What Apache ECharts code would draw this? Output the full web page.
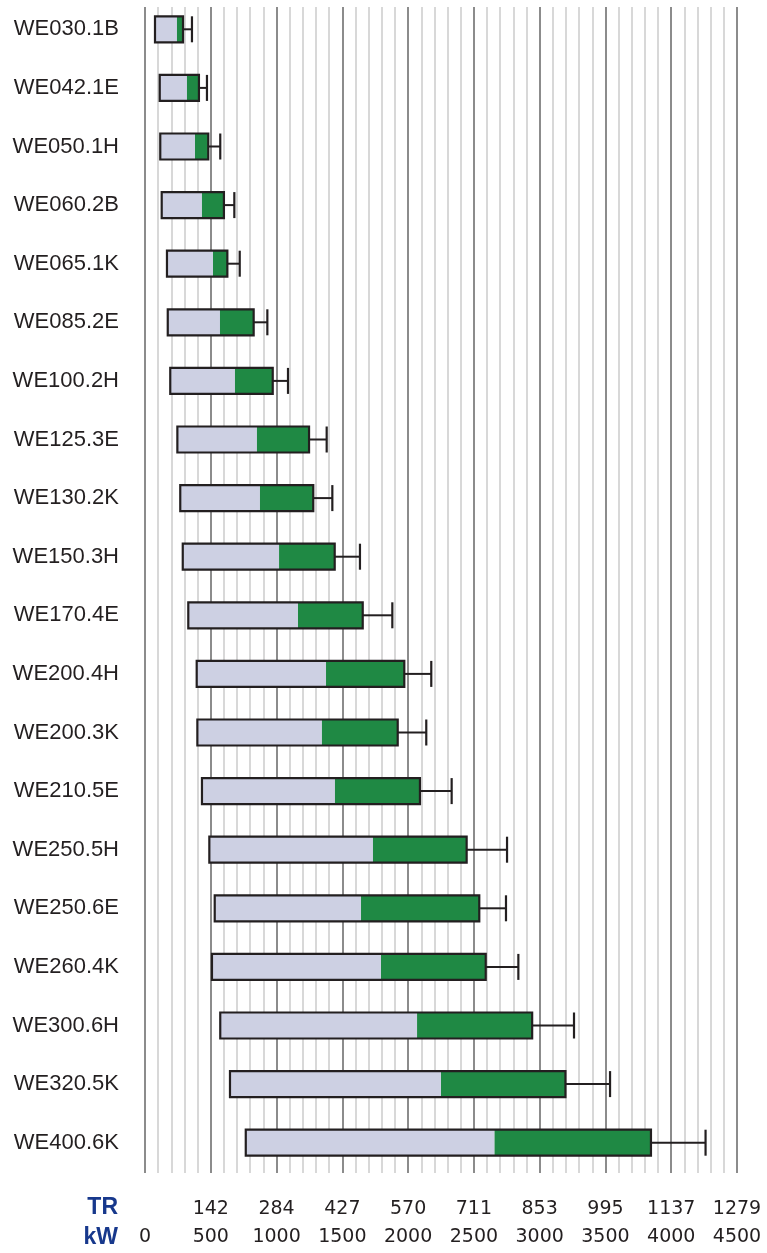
<!DOCTYPE html>
<html>
<head>
<meta charset="utf-8">
<script src="https://cdn.jsdelivr.net/npm/echarts@6/dist/echarts.min.js"></script>
<style>
html,body{margin:0;padding:0;background:#fff;}
#chart{width:767px;height:1253px;}
</style>
</head>
<body>
<div id="chart"></div>
<script>
// Model names (top to bottom)
const models = ['WE030.1B','WE042.1E','WE050.1H','WE060.2B','WE065.1K','WE085.2E','WE100.2H','WE125.3E','WE130.2K','WE150.3H','WE170.4E','WE200.4H','WE200.3K','WE210.5E','WE250.5H','WE250.6E','WE260.4K','WE300.6H','WE320.5K','WE400.6K'];
// Capacity ranges in kW
const startKW   = [76, 112, 116, 127, 167, 173, 192, 246, 268, 287, 329, 393, 398, 433, 489, 530, 509, 572, 646, 766];
const midKW     = [243, 319, 380, 433, 517, 570, 684, 851, 874, 1019, 1163, 1376, 1345, 1444, 1733, 1642, 1794, 2068, 2250, 2657];
const endKW     = [289, 410, 481, 600, 626, 826, 971, 1247, 1279, 1442, 1655, 1971, 1921, 2090, 2445, 2541, 2590, 2943, 3196, 3846];
const whiskerKW = [357, 471, 572, 679, 720, 930, 1087, 1381, 1424, 1634, 1880, 2176, 2138, 2331, 2752, 2744, 2838, 3261, 3535, 4261];
// Tick labels
const trLabels = ['', '142', '284', '427', '570', '711', '853', '995', '1137', '1279'];
const kwTicks  = [0, 500, 1000, 1500, 2000, 2500, 3000, 3500, 4000, 4500];

const chart = echarts.init(document.getElementById('chart'), null, {renderer: 'canvas'});

const LIGHT = '#cdd0e3', GREEN = '#1f8944', EDGE = '#231f20';
const data = models.map((m, i) => [i, startKW[i], midKW[i], endKW[i], whiskerKW[i]]);

const tickFont = {fontFamily: 'DejaVu Sans', fontSize: 19, color: '#231f20'};

chart.setOption({
  animation: false,
  grid: [
    {left: 145, right: 30, top: 0, height: 1172},
    {left: 145, right: 30, top: 7, height: 1166}
  ],
  xAxis: [
    {gridIndex: 0, type: 'value', min: 0, max: 4500, interval: 500, show: false},
    {gridIndex: 1, type: 'value', min: 0, max: 4500, interval: 500, position: 'bottom',
      axisLine: {show: false}, axisTick: {show: false},
      splitLine: {show: true, lineStyle: {color: '#8c8c8c', width: 2}},
      minorTick: {show: false, splitNumber: 5},
      minorSplitLine: {show: true, lineStyle: {color: '#cccccc', width: 1.5}},
      axisLabel: Object.assign({margin: 55, formatter: v => String(v), showMinLabel: true, showMaxLabel: true}, tickFont)
    },
    {gridIndex: 1, type: 'value', min: 0, max: 4500, interval: 500, position: 'bottom', offset: 0,
      axisLine: {show: false}, axisTick: {show: false}, splitLine: {show: false},
      axisLabel: Object.assign({margin: 27, formatter: v => trLabels[kwTicks.indexOf(v)] || '', showMinLabel: true, showMaxLabel: true}, tickFont)
    }
  ],
  yAxis: [
    {gridIndex: 0, type: 'category', data: models, inverse: true,
      axisLine: {show: false}, axisTick: {show: false}, splitLine: {show: false},
      axisLabel: {margin: 26, fontFamily: 'Liberation Sans', fontSize: 22, color: '#231f20'}
    },
    {gridIndex: 1, type: 'value', show: false}
  ],
  graphic: [
    {type: 'text', right: 767 - 118, top: 1196, style: {text: 'TR', font: 'bold 23px "Liberation Sans"', fill: '#17388c', textAlign: 'right'}},
    {type: 'text', right: 767 - 118, top: 1226, style: {text: 'kW', font: 'bold 23px "Liberation Sans"', fill: '#17388c', textAlign: 'right'}}
  ],
  series: [{
    type: 'custom',
    xAxisIndex: 0, yAxisIndex: 0,
    encode: {y: 0, x: [1, 2, 3, 4]},
    data: data,
    z: 5,
    renderItem: function (params, api) {
      const c = api.value(0);
      const p0 = api.coord([api.value(1), c]);
      const p1 = api.coord([api.value(2), c]);
      const p2 = api.coord([api.value(3), c]);
      const p3 = api.coord([api.value(4), c]);
      const h = 26, yc = p0[1], top = yc - h / 2;
      return {type: 'group', children: [
        {type: 'rect', shape: {x: p0[0], y: top, width: p1[0] - p0[0], height: h}, style: {fill: LIGHT}},
        {type: 'rect', shape: {x: p1[0], y: top, width: p2[0] - p1[0], height: h}, style: {fill: GREEN}},
        {type: 'rect', shape: {x: p0[0], y: top, width: p2[0] - p0[0], height: h}, style: {fill: null, stroke: EDGE, lineWidth: 2.2}},
        {type: 'line', shape: {x1: p2[0], y1: yc, x2: p3[0], y2: yc}, style: {stroke: EDGE, lineWidth: 2}},
        {type: 'line', shape: {x1: p3[0], y1: yc - 13, x2: p3[0], y2: yc + 13}, style: {stroke: EDGE, lineWidth: 2.2}}
      ]};
    }
  }]
});
</script>
</body>
</html>
